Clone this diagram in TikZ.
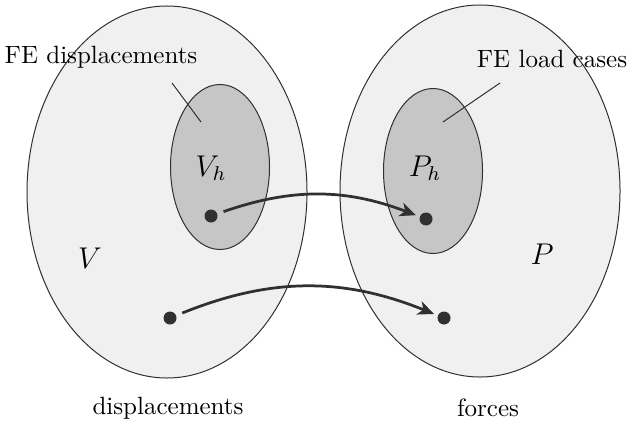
\documentclass[tikz,border=0pt]{standalone}
\usetikzlibrary{shapes.geometric,arrows.meta}
\definecolor{setfill}{RGB}{240,240,240}
\definecolor{subfill}{RGB}{198,198,198}
\definecolor{inkgray}{RGB}{48,48,48}

\begin{document}
\begin{tikzpicture}[
    x=0.4pt, y=-0.4pt,
    bigset/.style={ellipse, draw=inkgray, fill=setfill, minimum width=112pt,
                   minimum height=148.8pt, inner sep=0pt},
    subset/.style={ellipse, draw=inkgray, fill=subfill, minimum width=39.6pt,
                   minimum height=66pt, inner sep=0pt},
    dot/.style={circle, fill=inkgray, minimum size=5.2pt, inner sep=0pt},
    arrow/.style={-{Stealth[length=6.4pt, width=5.6pt, inset=1.8pt]},
                  line width=1.1pt, color=inkgray,
                  shorten <=2.5pt, shorten >=1.5pt},
    pointer/.style={draw=inkgray, line width=0.4pt},
    setname/.style={font=\large}
]
\useasboundingbox (0,0) rectangle (630,425);

% Sets
\node[bigset] (V) at (167,192) {};
\node[bigset] (P) at (480,191) {};
\node[subset] (Vh) at (220,167) {};
\node[subset] (Ph) at (433,171) {};

% Set names
\node[setname] at (90,258) {$V$};
\node[setname] at (542,254) {$P$};
\node[setname] at (211,168) {$V_h$};
\node[setname] at (425,168) {$P_h$};

% Labels
\node (fedisp) at (101,57) {FE displacements};
\node (feload) at (552,59) {FE load cases};
\coordinate (dispfoot) at (172,83);
\coordinate (disptip) at (201,122);
\coordinate (loadfoot) at (500,83);
\coordinate (loadtip) at (443,122);
\draw[pointer] (dispfoot) -- (disptip);
\draw[pointer] (loadfoot) -- (loadtip);

% Points and maps
\node[dot] (vh) at (211,216) {};
\node[dot] (ph) at (426,219) {};
\node[dot] (v) at (170,318) {};
\node[dot] (p) at (444,318) {};
\draw[arrow] (vh) to[bend left=20] (ph);
\draw[arrow] (v) to[bend left=22] (p);

% Spaces
\node (disp) at (168,408) {displacements};
\node (force) at (488,408) {forces};

\end{tikzpicture}
\end{document}
